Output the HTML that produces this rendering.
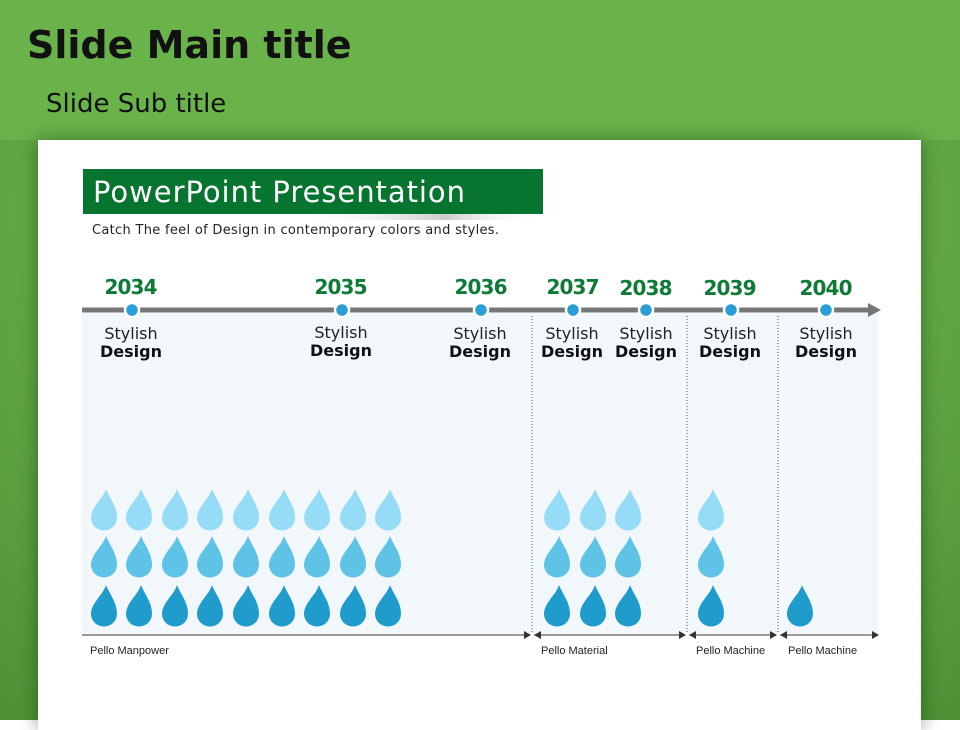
<!DOCTYPE html><html><head><style>
body{margin:0;width:960px;height:720px;overflow:hidden;font-family:"Liberation Sans","DejaVu Sans",sans-serif;}
.bg{position:absolute;left:0;top:0;width:960px;height:720px;background:radial-gradient(ellipse at 50% 30%,#6cb54c 0%,#68b049 55%,#4e8f35 100%);}
.top{position:absolute;left:0;top:0;width:960px;height:140px;background:#6ab34b;}
.panel{position:absolute;left:38px;top:140px;width:883px;height:590px;background:#fff;box-shadow:0 0 18px rgba(0,40,0,.45);}
</style></head><body>
<div class="bg"></div><div class="top"></div>
<div style="position:absolute;left:27px;top:23px;font:bold 38px 'DejaVu Sans',sans-serif;color:#111;">Slide Main title</div>
<div style="position:absolute;left:46px;top:89px;font:26px 'DejaVu Sans',sans-serif;color:#111">Slide Sub title</div>
<div class="panel"></div>
<svg width="960" height="720" style="position:absolute;left:0;top:0" font-family="DejaVu Sans, sans-serif">
<defs><linearGradient id="sh" x1="0" x2="1"><stop offset="0" stop-color="#fff" stop-opacity="0"/><stop offset=".6" stop-color="#aaa" stop-opacity=".6"/><stop offset="1" stop-color="#fff" stop-opacity="0"/></linearGradient>
<path id="d" d="M15 0 C12 10 0 18 0 29 A13 12.5 0 0 0 26 29 C26 17 19 10 15 0Z"/>
<g id="col">
<use href="#d" fill="#96dcf7" y="489"/><use href="#d" fill="#5fc2e7" y="536"/><use href="#d" fill="#1f9ccb" y="585"/></g>
</defs>
<rect x="83" y="169" width="460" height="45" fill="#077430"/>
<rect x="300" y="214" width="240" height="6" fill="url(#sh)"/>
<text x="93" y="202" font-size="29" fill="#fff" textLength="372">PowerPoint Presentation</text>
<text x="92" y="234" font-size="13" fill="#222" textLength="407">Catch The feel of Design in contemporary colors and styles.</text>
<rect x="82" y="313" width="796" height="320" fill="#f2f7fb"/>
<line x1="82" y1="310" x2="870" y2="310" stroke="#777" stroke-width="5"/>
<polygon points="868,303 881,310 868,317" fill="#777"/>
<g stroke="#555" stroke-dasharray="1,2" stroke-width="1"><line x1="532" y1="316" x2="532" y2="633"/><line x1="687" y1="316" x2="687" y2="633"/><line x1="778" y1="316" x2="778" y2="633"/></g>
<g font-size="20" font-weight="bold" fill="#0d7a35" text-anchor="middle">
<text x="131" y="294" textLength="53">2034</text><text x="341" y="294" textLength="53">2035</text><text x="481" y="294" textLength="53">2036</text><text x="573" y="294" textLength="53">2037</text><text x="646" y="295" textLength="53">2038</text><text x="730" y="295" textLength="53">2039</text><text x="826" y="295" textLength="53">2040</text></g>
<g fill="#2a9fd6" stroke="#fff" stroke-width="2.5">
<circle cx="132" cy="310" r="7"/><circle cx="342" cy="310" r="7"/><circle cx="481" cy="310" r="7"/><circle cx="573" cy="310" r="7"/><circle cx="646" cy="310" r="7"/><circle cx="731" cy="310" r="7"/><circle cx="826" cy="310" r="7"/></g>
<g font-size="16" fill="#222" text-anchor="middle">
<text x="131" y="339">Stylish</text><text x="341" y="338">Stylish</text><text x="480" y="339">Stylish</text><text x="572" y="339">Stylish</text><text x="646" y="339">Stylish</text><text x="730" y="339">Stylish</text><text x="826" y="339">Stylish</text></g>
<g font-size="16" font-weight="bold" fill="#111" text-anchor="middle">
<text x="131" y="357">Design</text><text x="341" y="356">Design</text><text x="480" y="357">Design</text><text x="572" y="357">Design</text><text x="646" y="357">Design</text><text x="730" y="357">Design</text><text x="826" y="357">Design</text></g>
<use href="#col" x="91"/><use href="#col" x="126"/><use href="#col" x="162"/><use href="#col" x="197"/><use href="#col" x="233"/><use href="#col" x="269"/><use href="#col" x="304"/><use href="#col" x="340"/><use href="#col" x="375"/>
<use href="#col" x="544"/><use href="#col" x="580"/><use href="#col" x="615"/><use href="#col" x="698"/>
<use href="#d" fill="#1f9ccb" x="787" y="585"/>
<g stroke="#333" stroke-width="1"><line x1="82" y1="635" x2="530" y2="635"/><line x1="534" y1="635" x2="685" y2="635"/><line x1="689" y1="635" x2="776" y2="635"/><line x1="780" y1="635" x2="878" y2="635"/></g>
<g fill="#333"><polygon points="531,635 524,631 524,639"/><polygon points="534,635 541,631 541,639"/><polygon points="686,635 679,631 679,639"/><polygon points="689,635 696,631 696,639"/><polygon points="777,635 770,631 770,639"/><polygon points="780,635 787,631 787,639"/><polygon points="879,635 872,631 872,639"/></g>
<g font-family="Liberation Sans, sans-serif" font-size="11" fill="#222">
<text x="90" y="654">Pello Manpower</text><text x="541" y="654">Pello Material</text><text x="696" y="654">Pello Machine</text><text x="788" y="654">Pello Machine</text></g>
</svg>
</body></html>
